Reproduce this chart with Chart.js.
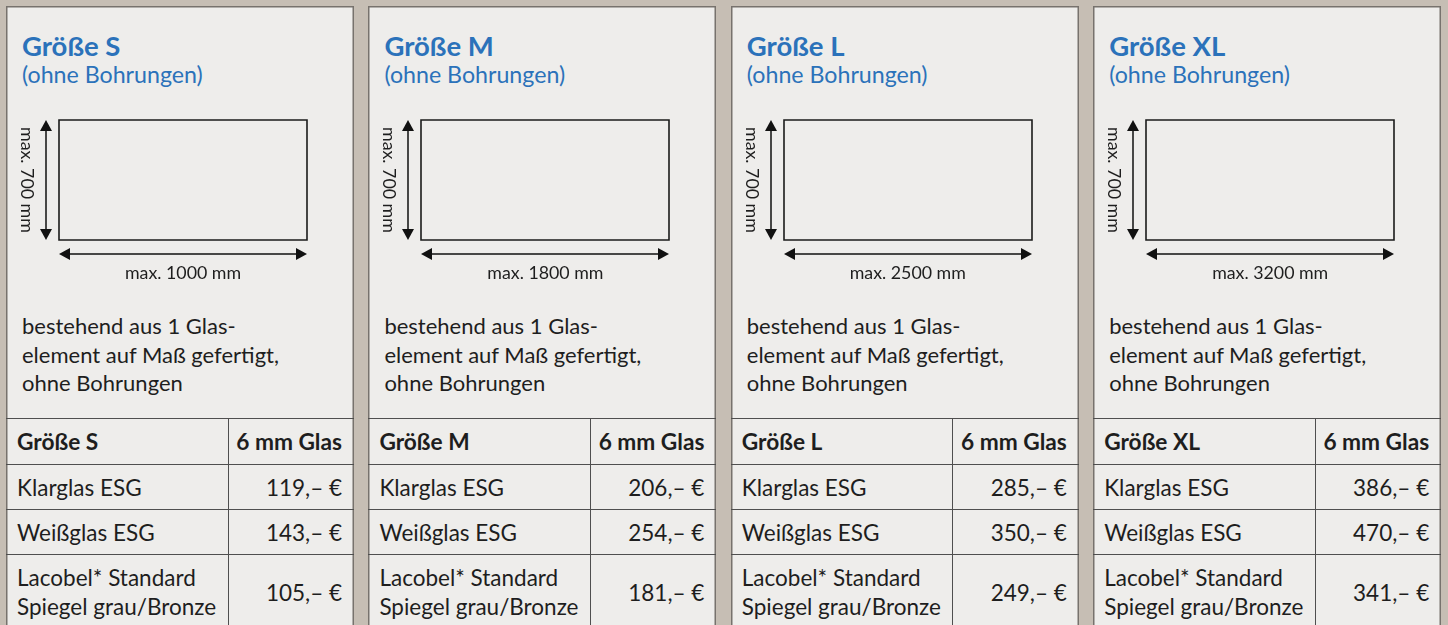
<!DOCTYPE html>
<html lang="de">
<head>
<meta charset="utf-8">
<title>Glaselemente Größen</title>
<script src="https://cdn.jsdelivr.net/npm/chart.js@4.4.1/dist/chart.umd.min.js"></script>
<style>
  html, body { margin: 0; padding: 0; }
  body { width: 1448px; height: 625px; overflow: hidden; background: #c6beb4; font-family: Lato, sans-serif; color: #1e1e1e; position: relative; }
  .panel { position: absolute; top: 6px; width: 348px; height: 640px; background: #eeedeb; box-shadow: inset 0 0 0 1.5px #77726d; }
  .title { position: absolute; left: 16px; top: 23px; font-size: 27.5px; font-weight: 700; color: #2b72ba; line-height: 1.2; white-space: nowrap; }
  .sub { position: absolute; left: 16px; top: 55px; font-size: 23.2px; color: #2b72ba; line-height: 1.2; white-space: nowrap; }
  .diagram { position: absolute; left: 0; top: 94px; }
  .wlabel { position: absolute; left: 53px; width: 248px; top: 256px; text-align: center; font-size: 17.8px; line-height: 1.2; }
  .hlabel { position: absolute; left: 12px; top: 114px; height: 120px; width: 20px; writing-mode: vertical-rl; text-align: center; font-size: 17.8px; line-height: 20px; }
  .desc { position: absolute; left: 16px; top: 306px; font-size: 22px; line-height: 28.5px; white-space: nowrap; }
  table { position: absolute; left: 0; top: 412px; width: 348px; table-layout: fixed; border-collapse: collapse; font-size: 22.5px; }
  td { border-top: 1.5px solid #4f4f4f; padding: 0 11px; vertical-align: middle; line-height: 29px; white-space: nowrap; }
  td + td { border-left: 1.5px solid #4f4f4f; text-align: right; padding: 0 12px 0 0; }
  tr.head td { font-weight: 700; font-size: 22.7px; height: 45px; }
  tr.row td { height: 44px; }
  tr.last td { height: 74px; }
</style>
</head>
<body>
<script>
const sizes = ['S', 'M', 'L', 'XL'];
const maxWidthMm = [1000, 1800, 2500, 3200];
const maxHeightMm = 700;
const glassTypes = ['Klarglas ESG', 'Weißglas ESG', 'Lacobel* Standard\nSpiegel grau/Bronze'];
const priceKlarglas = [119, 206, 285, 386];
const priceWeissglas = [143, 254, 350, 470];
const priceLacobel = [105, 181, 249, 341];
const descLines = ['bestehend aus 1 Glas-', 'element auf Maß gefertigt,', 'ohne Bohrungen'];

const prices = [priceKlarglas, priceWeissglas, priceLacobel];

// draws the two dimension arrows next to the rectangle
const dimArrows = {
  id: 'dimArrows',
  afterDatasetsDraw(chart) {
    const { ctx, scales: { x, y } } = chart;
    const left = x.getPixelForValue(0), right = x.getPixelForValue(x.max);
    const bottom = y.getPixelForValue(0), top = y.getPixelForValue(y.max);
    const ay = bottom + 14, ax = left - 13;
    const head = (tx, ty, dx, dy) => {
      ctx.beginPath();
      ctx.moveTo(tx, ty);
      ctx.lineTo(tx - dx * 11 - dy * 6, ty - dy * 11 - dx * 6);
      ctx.lineTo(tx - dx * 11 + dy * 6, ty - dy * 11 + dx * 6);
      ctx.closePath();
      ctx.fill();
    };
    ctx.save();
    ctx.strokeStyle = ctx.fillStyle = '#111';
    ctx.lineWidth = 1.5;
    ctx.beginPath();
    ctx.moveTo(left + 6, ay); ctx.lineTo(right - 6, ay);
    ctx.moveTo(ax, top + 6); ctx.lineTo(ax, bottom - 6);
    ctx.stroke();
    head(left, ay, -1, 0); head(right, ay, 1, 0);
    head(ax, top, 0, -1); head(ax, bottom, 0, 1);
    ctx.restore();
  }
};

const fmt = v => v + ',\u2013 \u20ac';

sizes.forEach((size, i) => {
  const panel = document.createElement('div');
  panel.className = 'panel';
  panel.style.left = (6 + i * 362.4) + 'px';
  document.body.appendChild(panel);

  const title = document.createElement('div');
  title.className = 'title';
  title.textContent = 'Größe ' + size;
  panel.appendChild(title);

  const sub = document.createElement('div');
  sub.className = 'sub';
  sub.textContent = '(ohne Bohrungen)';
  panel.appendChild(sub);

  const canvas = document.createElement('canvas');
  canvas.className = 'diagram';
  canvas.width = 348;
  canvas.height = 190;
  panel.appendChild(canvas);

  const w = maxWidthMm[i];
  new Chart(canvas, {
    type: 'scatter',
    data: {
      datasets: [{
        data: [{ x: 0, y: 0 }, { x: w, y: 0 }, { x: w, y: maxHeightMm }, { x: 0, y: maxHeightMm }, { x: 0, y: 0 }],
        showLine: true,
        borderColor: '#1b1b1b',
        borderWidth: 1.6,
        borderJoinStyle: 'miter',
        borderCapStyle: 'square',
        pointRadius: 0,
        clip: false
      }]
    },
    options: {
      responsive: false,
      animation: false,
      layout: { padding: { left: 53, right: 47, top: 20, bottom: 50 } },
      scales: {
        x: { display: false, min: 0, max: w },
        y: { display: false, min: 0, max: maxHeightMm }
      },
      plugins: { legend: { display: false }, tooltip: { enabled: false } }
    },
    plugins: [dimArrows]
  });

  const wl = document.createElement('div');
  wl.className = 'wlabel';
  wl.textContent = 'max. ' + w + ' mm';
  panel.appendChild(wl);

  const hl = document.createElement('div');
  hl.className = 'hlabel';
  hl.textContent = 'max. ' + maxHeightMm + ' mm';
  panel.appendChild(hl);

  const desc = document.createElement('div');
  desc.className = 'desc';
  desc.innerHTML = descLines.join('<br>');
  panel.appendChild(desc);

  const table = document.createElement('table');
  let html = '<colgroup><col style="width:222px"><col style="width:126px"></colgroup>';
  html += '<tr class="head"><td>Größe ' + size + '</td><td>6 mm Glas</td></tr>';
  glassTypes.forEach((g, r) => {
    const cls = r === glassTypes.length - 1 ? 'last' : 'row';
    html += '<tr class="' + cls + '"><td>' + g.replace('\n', '<br>') + '</td><td>' + fmt(prices[r][i]) + '</td></tr>';
  });
  table.innerHTML = html;
  panel.appendChild(table);
});
</script>
</body>
</html>
